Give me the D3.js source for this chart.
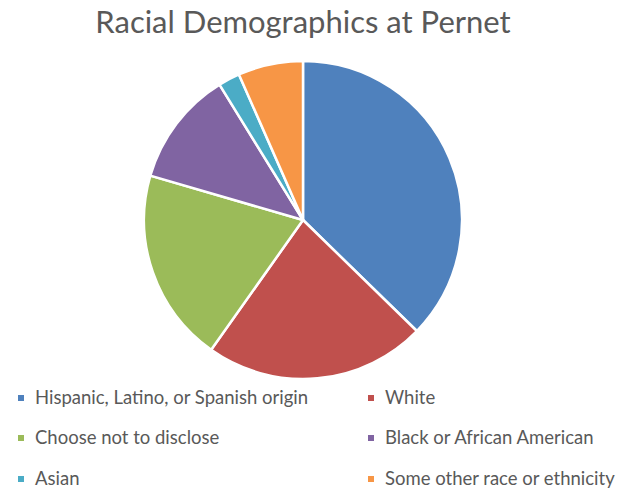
<!DOCTYPE html>
<html>
<head>
<meta charset="utf-8">
<script src="https://cdn.jsdelivr.net/npm/d3@7"></script>
<style>
  body { margin: 0; background: #fff; }
  text { font-family: Lato, "Open Sans", sans-serif; }
</style>
</head>
<body>
<svg id="chart"></svg>
<script>
var categories = ["Hispanic, Latino, or Spanish origin", "White", "Choose not to disclose",
                  "Black or African American", "Asian", "Some other race or ethnicity"]
var values = [37.3, 22.5, 19.7, 11.7, 2.2, 6.6]
var colors = ["#4F81BD", "#C0504D", "#9BBB59", "#8064A2", "#4BACC6", "#F79646"]
var title = "Racial Demographics at Pernet"

var width = 628, height = 488
var svg = d3.select("#chart").attr("width", width).attr("height", height)

svg.append("rect").attr("width", width).attr("height", height).attr("fill", "#fff")

// title
svg.append("text")
   .attr("x", 303)
   .attr("y", 33)
   .attr("text-anchor", "middle")
   .attr("font-size", 31)
   .attr("fill", "#595959")
   .text(title)

// pie
var cx = 303, cy = 220, r = 159
var pie = d3.pie().sort(null).value(d => d)
var arc = d3.arc().innerRadius(0).outerRadius(r)
var color = d3.scaleOrdinal().domain(categories).range(colors)

svg.append("g")
   .attr("transform", `translate(${cx},${cy})`)
   .selectAll("path")
   .data(pie(values))
   .join("path")
   .attr("d", arc)
   .attr("fill", (d, i) => color(categories[i]))
   .attr("stroke", "#fff")
   .attr("stroke-width", 2.5)
   .attr("stroke-linejoin", "round")

// legend, two columns
var colX = [18, 368]
var rowY = [398, 438, 479]
var legend = svg.append("g")
   .selectAll("g")
   .data(categories)
   .join("g")
   .attr("transform", (d, i) => `translate(${colX[i % 2]},${rowY[Math.floor(i / 2)]})`)

legend.append("rect")
   .attr("x", 0).attr("y", -3)
   .attr("width", 6).attr("height", 6)
   .attr("fill", d => color(d))

legend.append("text")
   .attr("x", 17)
   .attr("y", 0)
   .attr("dy", "0.35em")
   .attr("font-size", 18.5)
   .attr("fill", "#595959")
   .text(d => d)
</script>
</body>
</html>
